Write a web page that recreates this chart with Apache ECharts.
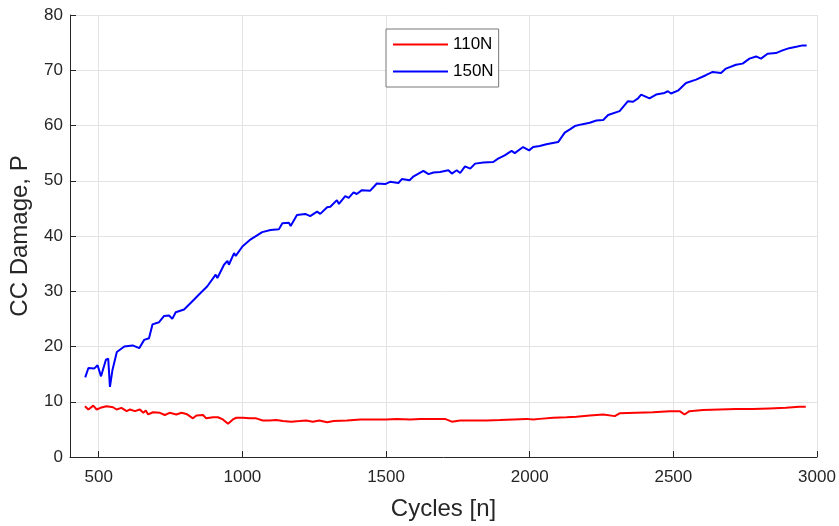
<!DOCTYPE html>
<html>
<head>
<meta charset="utf-8">
<script src="https://cdn.jsdelivr.net/npm/echarts@6.0.0/dist/echarts.min.js"></script>
<style>
  html, body { margin: 0; padding: 0; background: #fff; }
  #chart { width: 839px; height: 526px; }
</style>
</head>
<body>
<div id="chart"></div>
<script>
// 110N load
var cycles110 = [452, 464, 481, 493, 506, 527, 550, 562, 579, 597, 609, 626, 643, 655, 664, 672, 689, 713, 730, 747,
  770, 788, 805, 828, 840, 863, 874, 898, 915, 932, 950, 967, 979, 1002, 1025, 1048, 1071, 1094, 1118, 1141,
  1170, 1199, 1222, 1245, 1268, 1295, 1318, 1364, 1411, 1457, 1500, 1538, 1584, 1619, 1665, 1705, 1729, 1758,
  1804, 1850, 1897, 1943, 1989, 2012, 2035, 2082, 2128, 2163, 2209, 2256, 2296, 2313, 2371, 2429, 2487, 2522,
  2539, 2556, 2603, 2661, 2718, 2776, 2834, 2892, 2938, 2961];
var damage110 = [9.2, 8.6, 9.3, 8.6, 8.9, 9.2, 9.0, 8.6, 8.9, 8.3, 8.6, 8.3, 8.6, 8.0, 8.4, 7.7, 8.1, 8.0, 7.6, 8.0,
  7.7, 8.0, 7.8, 7.0, 7.5, 7.6, 7.0, 7.2, 7.2, 6.8, 6.0, 6.8, 7.1, 7.1, 7.0, 7.0, 6.6, 6.6, 6.7, 6.5,
  6.4, 6.5, 6.6, 6.4, 6.6, 6.3, 6.5, 6.6, 6.8, 6.8, 6.8, 6.9, 6.8, 6.9, 6.9, 6.9, 6.4, 6.6,
  6.6, 6.6, 6.7, 6.8, 6.9, 6.8, 6.9, 7.1, 7.2, 7.3, 7.5, 7.7, 7.4, 7.9, 8.0, 8.1, 8.3, 8.3,
  7.7, 8.3, 8.5, 8.6, 8.7, 8.7, 8.8, 8.9, 9.1, 9.1];

// 150N load
var cycles150 = [453, 464, 484, 496, 508, 525, 533, 539, 548, 563, 589, 618, 641, 658, 675, 687, 710, 727, 745, 756,
  768, 797, 832, 849, 878, 907, 913, 936, 948, 953, 971, 977, 1000, 1029, 1069, 1098, 1127, 1139, 1162, 1168,
  1190, 1219, 1236, 1260, 1271, 1295, 1306, 1329, 1336, 1358, 1370, 1387, 1398, 1416, 1445, 1468, 1497, 1514,
  1543, 1555, 1582, 1596, 1613, 1630, 1648, 1665, 1688, 1717, 1729, 1746, 1758, 1775, 1793, 1810, 1839, 1873,
  1890, 1913, 1937, 1948, 1977, 1998, 2012, 2035, 2058, 2099, 2122, 2140, 2157, 2180, 2209, 2232, 2256, 2273,
  2313, 2342, 2360, 2377, 2388, 2417, 2440, 2469, 2481, 2492, 2516, 2544, 2579, 2613, 2637, 2666, 2683, 2718,
  2741, 2765, 2788, 2805, 2828, 2857, 2880, 2903, 2932, 2950, 2964];
var damage150 = [14.4, 16.1, 16.0, 16.6, 14.6, 17.6, 17.8, 12.7, 15.8, 19.0, 20.0, 20.2, 19.7, 21.2, 21.5, 24.0, 24.4, 25.5, 25.6, 25.0,
  26.2, 26.7, 28.5, 29.4, 30.9, 33.0, 32.4, 34.8, 35.5, 34.8, 36.9, 36.4, 38.1, 39.4, 40.7, 41.1, 41.2, 42.3, 42.4, 41.8,
  43.8, 44.0, 43.6, 44.4, 44.0, 45.2, 45.3, 46.5, 45.8, 47.2, 46.9, 47.9, 47.6, 48.3, 48.2, 49.5, 49.4, 49.8,
  49.6, 50.3, 50.1, 50.8, 51.3, 51.8, 51.2, 51.5, 51.6, 51.9, 51.3, 51.9, 51.4, 52.6, 52.2, 53.1, 53.3, 53.4,
  54.0, 54.6, 55.4, 55.0, 56.1, 55.5, 56.1, 56.3, 56.6, 57.0, 58.7, 59.3, 59.9, 60.2, 60.5, 60.9, 61.0, 61.9,
  62.6, 64.4, 64.3, 64.9, 65.6, 64.9, 65.6, 65.9, 66.2, 65.8, 66.3, 67.7, 68.3, 69.1, 69.7, 69.5, 70.3, 71.0,
  71.2, 72.1, 72.5, 72.1, 73.0, 73.1, 73.6, 74.0, 74.3, 74.5, 74.5];

var seriesNames = ['110N', '150N'];

function pairs(xs, ys) {
  return xs.map(function (x, i) { return [x, ys[i]]; });
}

var font = '"Liberation Sans", Arial, sans-serif';
var axisColor = '#262626';

var chart = echarts.init(document.getElementById('chart'));
chart.setOption({
  animation: false,
  textStyle: { fontFamily: font },
  grid: { left: 69, right: 22, top: 15, bottom: 68 },
  legend: {
    orient: 'vertical',
    left: 386,
    top: 29,
    padding: [7, 5, 7, 6],
    itemWidth: 55,
    itemHeight: 14,
    itemGap: 10,
    backgroundColor: '#fff',
    borderColor: '#777',
    borderWidth: 1,
    borderRadius: 0,
    itemStyle: { opacity: 0 },
    lineStyle: { width: 2 },
    textStyle: { fontSize: 17, color: '#000', fontFamily: font },
    data: seriesNames
  },
  xAxis: {
    type: 'value',
    min: 400,
    max: 3000,
    splitNumber: 5,
    name: 'Cycles [n]',
    nameLocation: 'middle',
    nameGap: 40,
    nameTextStyle: { fontSize: 24, color: axisColor },
    axisLine: { lineStyle: { color: axisColor } },
    axisTick: { inside: true, length: 6, lineStyle: { color: axisColor } },
    axisLabel: {
      fontSize: 17, color: axisColor, margin: 12, showMinLabel: false,
      formatter: function (v) { return String(v); }
    },
    splitLine: { show: true, lineStyle: { color: '#e3e3e3' } }
  },
  yAxis: {
    type: 'value',
    min: 0,
    max: 80,
    interval: 10,
    name: 'CC Damage, P',
    nameLocation: 'middle',
    nameGap: 38,
    nameTextStyle: { fontSize: 24, color: axisColor },
    axisLine: { show: true, lineStyle: { color: axisColor } },
    axisTick: { show: true, inside: true, length: 6, lineStyle: { color: axisColor } },
    axisLabel: { fontSize: 17, color: axisColor, margin: 7 },
    splitLine: { show: true, lineStyle: { color: '#e3e3e3' } }
  },
  series: [
    {
      name: seriesNames[0],
      type: 'line',
      symbol: 'none',
      color: '#ff0000',
      lineStyle: { width: 2, color: '#ff0000' },
      data: pairs(cycles110, damage110)
    },
    {
      name: seriesNames[1],
      type: 'line',
      symbol: 'none',
      color: '#0000ff',
      lineStyle: { width: 2, color: '#0000ff' },
      data: pairs(cycles150, damage150)
    }
  ]
});
</script>
</body>
</html>
